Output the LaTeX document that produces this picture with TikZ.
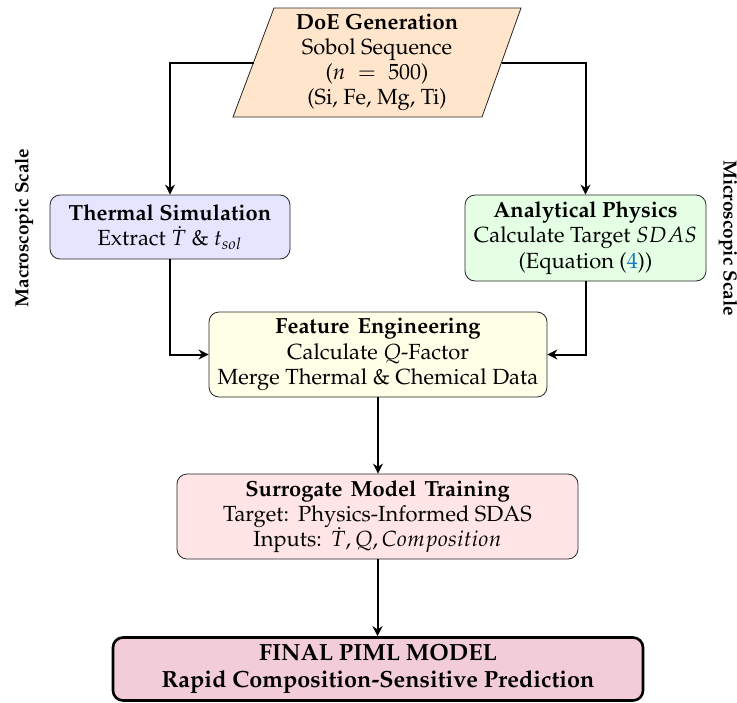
\documentclass[tikz,border=0pt]{standalone}
\usepackage[T1]{fontenc}
\usepackage{mathpazo}
\usetikzlibrary{arrows.meta,positioning}
\definecolor{linkblue}{RGB}{30,120,190}
\begin{document}
\begin{tikzpicture}[x=0.5pt,y=-0.5pt,
  box/.style={draw=black!85, rounded corners=5pt, align=center, inner sep=2pt, font=\fontsize{10.95}{12.6}\selectfont},
  arr/.style={draw=black, line width=1pt, -{Stealth[length=5pt,width=5pt]}},
  scalelabel/.style={font=\fontsize{9.5}{11}\selectfont\bfseries}
]
\useasboundingbox (0,0) rectangle (737,702);

% DoE parallelogram
\coordinate (p1) at (233,117);
\coordinate (p2) at (482,117);
\coordinate (p3) at (521,8);
\coordinate (p4) at (274,8);
\path[fill=orange!20, draw=black!85] (p1) -- (p2) -- (p3) -- (p4) -- cycle;
\node[align=center, inner sep=0pt, font=\fontsize{10.95}{12.4}\selectfont] (doe) at (377,62.5)
  {\textbf{DoE Generation}\\Sobol Sequence\\($n \;=\; 500$)\\(Si, Fe, Mg, Ti)};
\coordinate (doeL) at (253.5,62.5);
\coordinate (doeR) at (501.5,62.5);

\node[box, fill=blue!10, minimum width=120pt, minimum height=32pt] (thermal) at (170,227)
  {\textbf{Thermal Simulation}\\Extract $\dot{T}$ \& $t_{sol}$};
\node[box, fill=green!10, minimum width=120.5pt, minimum height=43pt] (analytical) at (585.5,238)
  {\textbf{Analytical Physics}\\Calculate Target $SDAS$\\(Equation (\textcolor{linkblue}{4}))};
\node[box, fill=yellow!10, minimum width=169pt, minimum height=42.5pt] (feature) at (378,354.5)
  {\textbf{Feature\hspace{0.12em} Engineering}\\Calculate $Q$-Factor\\Merge Thermal \& Chemical Data};
\node[box, fill=red!10, minimum width=200.5pt, minimum height=42.5pt] (surrogate) at (377.5,516.5)
  {\textbf{Surrogate\hspace{0.12em} Model\hspace{0.12em} Training}\\Target:\ \,Physics-Informed SDAS\\Inputs:\ \,$\dot{T}, Q, Composition$};
\node[box, fill=purple!20, line width=1.3pt, draw=black, minimum width=265pt, minimum height=31.5pt, font=\fontsize{11.7}{13.6}\selectfont\bfseries] (final) at (378,669)
  {FINAL PIML MODEL\\Rapid Composition-Sensitive Prediction};

\node[scalelabel, rotate=90] (macro) at (24,228) {Macroscopic Scale};
\node[scalelabel, rotate=-90] (micro) at (728,238) {Microscopic Scale};

\draw[arr] (doeL) -| (thermal.north);
\draw[arr] (doeR) -| (analytical.north);
\draw[arr] (thermal.south) |- (feature.west);
\draw[arr] (analytical.south) |- (feature.east);
\draw[arr] (feature.south) -- (feature.south |- surrogate.north);
\draw[arr] (surrogate.south) -- (surrogate.south |- final.north);
\end{tikzpicture}
\end{document}
